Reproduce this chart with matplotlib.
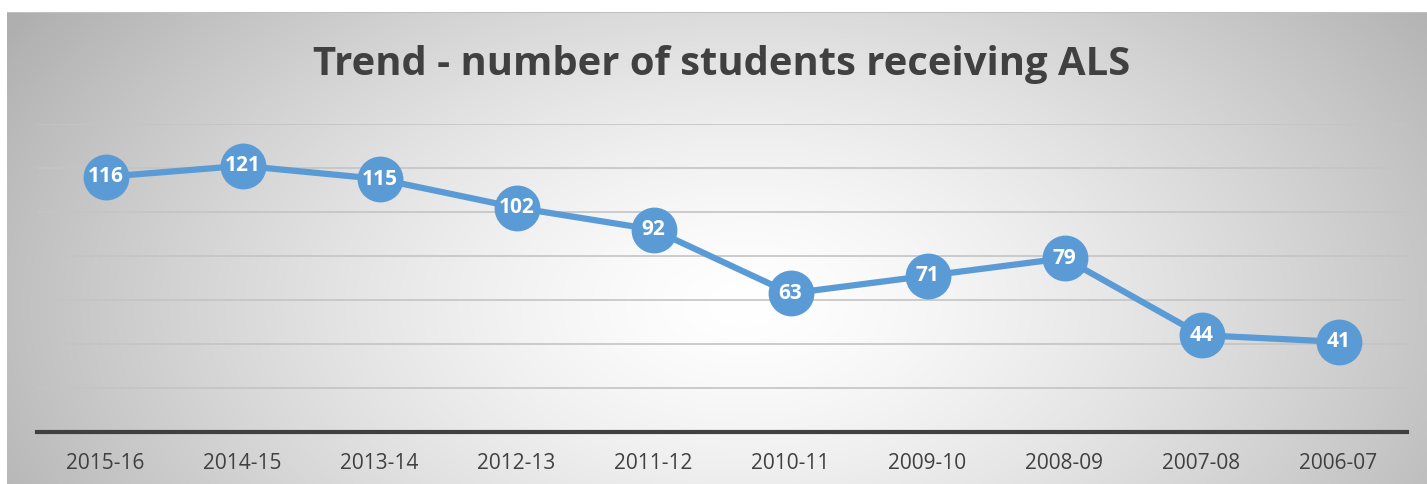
import numpy as np
import matplotlib
matplotlib.use("Agg")
import matplotlib.pyplot as plt

categories = ["2015-16", "2014-15", "2013-14", "2012-13", "2011-12",
              "2010-11", "2009-10", "2008-09", "2007-08", "2006-07"]
values = [116, 121, 115, 102, 92, 63, 71, 79, 44, 41]
title = "Trend - number of students receiving ALS"

W, H = 1427, 484
fig = plt.figure(figsize=(W / 100, H / 100), dpi=100)
fig.patch.set_facecolor("white")

# background panel with radial gradient
bx0, by0, bx1, by1 = 7, 12, 1427, 484
bg = fig.add_axes([bx0 / W, 1 - by1 / H, (bx1 - bx0) / W, (by1 - by0) / H])
bg.set_axis_off()
ny, nx = 200, 600
yy, xx = np.mgrid[0:1:ny * 1j, 0:1:nx * 1j]
r = np.sqrt(((xx - 0.52) / 0.55) ** 2 + ((yy - 0.62) / 1.0) ** 2)
v = 1.0 - 0.27 * np.clip(r, 0, 1.2) ** 1.4
img = np.dstack([v, v, v])
bg.imshow(img, aspect="auto", extent=[0, 1, 0, 1], origin="upper", interpolation="bilinear")
bg.plot([0, 1], [0.999, 0.999], color="#c0c0c0", lw=1.5, transform=bg.transAxes)

# main plot area
px0, px1, py_top, py_bot = 37, 1407, 124, 432
ax = fig.add_axes([px0 / W, 1 - py_bot / H, (px1 - px0) / W, (py_bot - py_top) / H])
ax.patch.set_alpha(0)
x = np.arange(len(categories)) + 0.5
ax.set_xlim(0, len(categories))
ax.set_ylim(0, 140)
ax.set_yticks(np.arange(20, 141, 20))
ax.yaxis.grid(True, color="#c4c4c4", lw=1.2)
ax.set_axisbelow(True)
ax.tick_params(axis="y", left=False, labelleft=False)
ax.set_xticks(x)
ax.set_xticklabels(categories, fontsize=15, color="#404040", family="Open Sans")
ax.tick_params(axis="x", length=0, pad=15)
for s in ["top", "right", "left"]:
    ax.spines[s].set_visible(False)
ax.spines["bottom"].set_color("#404040")
ax.spines["bottom"].set_linewidth(3)

ax.plot(x, values, color="#5B9BD5", lw=4.5, marker="o", markersize=32,
        markerfacecolor="#5B9BD5", markeredgecolor="#5B9BD5", clip_on=False, zorder=3)
for xi, vi in zip(x, values):
    ax.text(xi, vi, str(vi), ha="center", va="center", color="white",
            fontsize=15, fontweight="bold", family="Open Sans", zorder=4)

fig.text(722 / W, 1 - 64 / H, title, ha="center", va="center", fontsize=28.8,
         fontweight="bold", color="#404040", family="Open Sans")

fig.savefig("out.png", dpi=100)
